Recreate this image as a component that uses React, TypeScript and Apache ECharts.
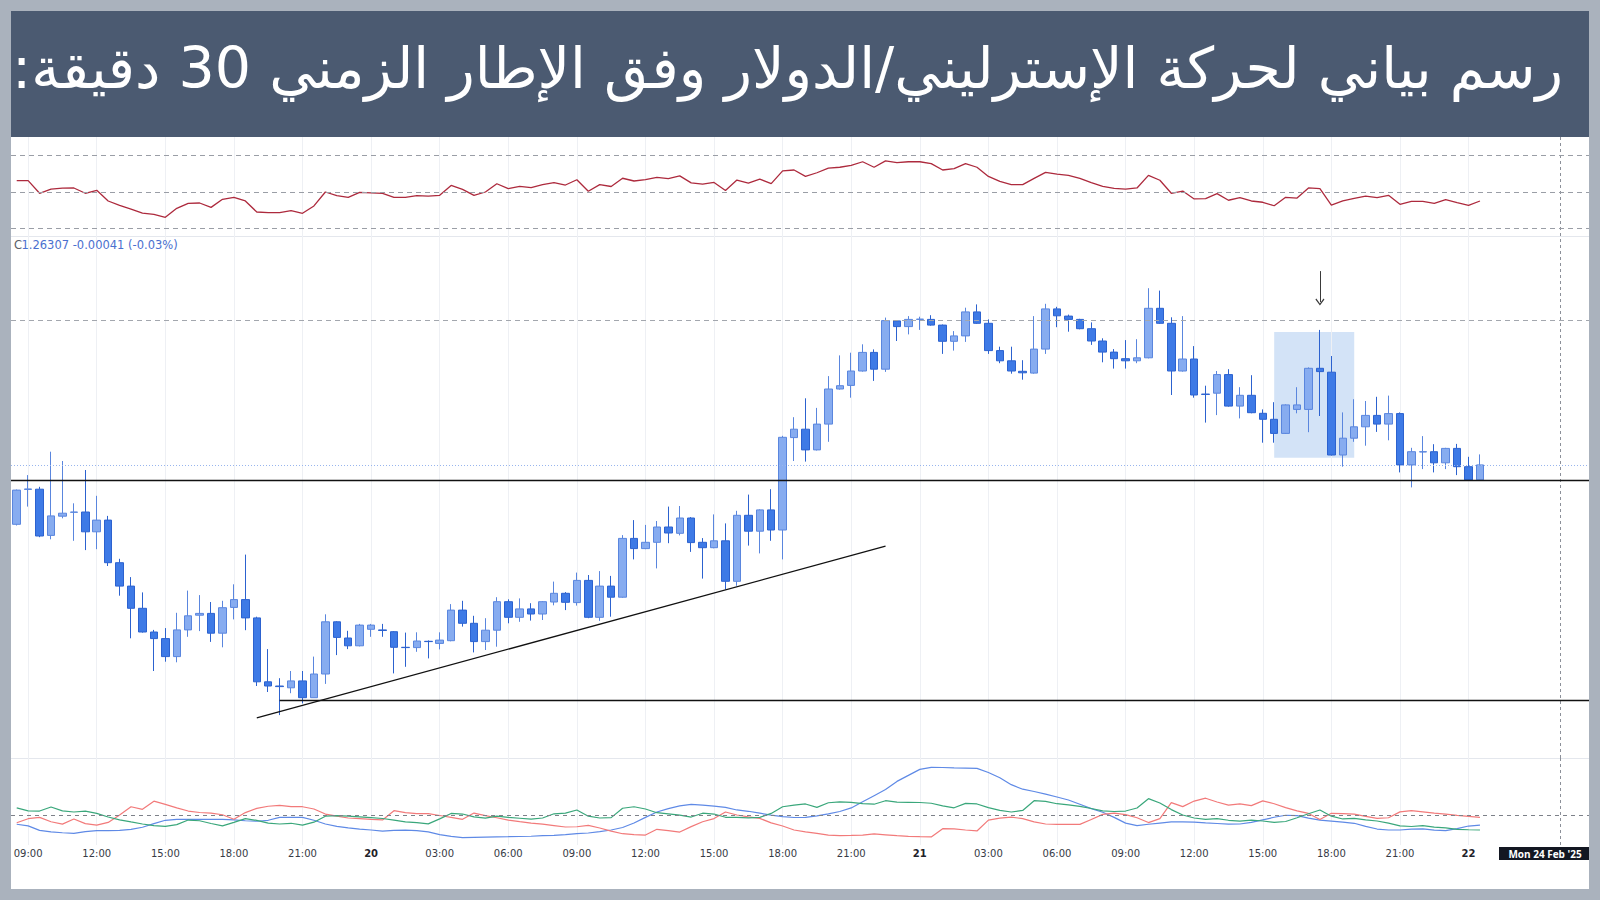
import React, { useEffect, useRef } from "react";
import * as echarts from "echarts";

const TITLE = "رسم بياني لحركة الإسترليني/الدولار وفق الإطار الزمني 30 دقيقة:";
const QUOTE_PREFIX = "C";
const QUOTE_TEXT = "1.26307 -0.00041 (-0.03%)";
const CROSSHAIR_LABEL = "Mon 24 Feb '25";

// x-axis tick labels (category index -> label)
const tickIndex = [1, 7, 13, 19, 25, 31, 37, 43, 49, 55, 61, 67, 73, 79, 85, 91, 97, 103, 109, 115, 121, 127];
const tickLabels = ["09:00", "12:00", "15:00", "18:00", "21:00", "20", "03:00", "06:00", "09:00", "12:00", "15:00", "18:00", "21:00", "21", "03:00", "06:00", "09:00", "12:00", "15:00", "18:00", "21:00", "22"];
const dayLabels = ["20", "21", "22"];

const SLOT_COUNT = 139; // 129 thirty-minute candles + empty slots on the right
const CROSSHAIR_INDEX = 135;
const START_MS = Date.UTC(2025, 1, 19, 8, 30);
const categories = Array.from({ length: SLOT_COUNT }, (_, i) =>
  new Date(START_MS + i * 1800000).toISOString().slice(5, 16).replace("T", " ")
);

// GBP/USD 30m candles: [open, close, low, high]
const candles = [
  [1.26109, 1.26223, 1.26105, 1.26225], [1.26225, 1.26227, 1.26168, 1.26273], [1.26226, 1.26070, 1.26066, 1.26234], [1.26072, 1.26137, 1.26059, 1.26351],
  [1.26136, 1.26146, 1.26129, 1.26320], [1.26149, 1.26150, 1.26054, 1.26179], [1.26150, 1.26084, 1.26023, 1.26290], [1.26084, 1.26123, 1.26026, 1.26204],
  [1.26123, 1.25981, 1.25970, 1.26137], [1.25981, 1.25903, 1.25871, 1.25994], [1.25903, 1.25829, 1.25729, 1.25933], [1.25829, 1.25750, 1.25748, 1.25882],
  [1.25750, 1.25728, 1.25620, 1.25757], [1.25728, 1.25668, 1.25651, 1.25763], [1.25668, 1.25757, 1.25649, 1.25814], [1.25757, 1.25804, 1.25734, 1.25888],
  [1.25806, 1.25812, 1.25753, 1.25873], [1.25812, 1.25746, 1.25717, 1.25850], [1.25746, 1.25831, 1.25699, 1.25854], [1.25832, 1.25858, 1.25792, 1.25909],
  [1.25858, 1.25797, 1.25756, 1.26008], [1.25797, 1.25584, 1.25570, 1.25801], [1.25584, 1.25570, 1.25550, 1.25693], [1.25570, 1.25568, 1.25473, 1.25596],
  [1.25564, 1.25587, 1.25546, 1.25620], [1.25587, 1.25531, 1.25512, 1.25620], [1.25531, 1.25610, 1.25531, 1.25668], [1.25610, 1.25784, 1.25577, 1.25809],
  [1.25784, 1.25732, 1.25673, 1.25786], [1.25730, 1.25704, 1.25693, 1.25754], [1.25704, 1.25773, 1.25702, 1.25777], [1.25759, 1.25773, 1.25734, 1.25777],
  [1.25757, 1.25755, 1.25734, 1.25777], [1.25751, 1.25699, 1.25612, 1.25753], [1.25699, 1.25698, 1.25634, 1.25748], [1.25698, 1.25720, 1.25684, 1.25749],
  [1.25719, 1.25718, 1.25662, 1.25722], [1.25712, 1.25723, 1.25692, 1.25749], [1.25721, 1.25823, 1.25719, 1.25843], [1.25823, 1.25779, 1.25768, 1.25854],
  [1.25779, 1.25718, 1.25682, 1.25804], [1.25718, 1.25756, 1.25690, 1.25796], [1.25756, 1.25851, 1.25701, 1.25866], [1.25851, 1.25799, 1.25779, 1.25859],
  [1.25799, 1.25827, 1.25784, 1.25862], [1.25827, 1.25810, 1.25788, 1.25846], [1.25810, 1.25851, 1.25790, 1.25853], [1.25850, 1.25879, 1.25839, 1.25918],
  [1.25879, 1.25849, 1.25823, 1.25883], [1.25848, 1.25922, 1.25838, 1.25948], [1.25922, 1.25799, 1.25796, 1.25940], [1.25799, 1.25903, 1.25787, 1.25953],
  [1.25903, 1.25866, 1.25801, 1.25937], [1.25866, 1.26062, 1.25864, 1.26073], [1.26062, 1.26028, 1.25992, 1.26123], [1.26028, 1.26049, 1.26026, 1.26107],
  [1.26049, 1.26100, 1.25962, 1.26120], [1.26100, 1.26080, 1.26046, 1.26168], [1.26079, 1.26130, 1.26072, 1.26170], [1.26130, 1.26048, 1.26017, 1.26133],
  [1.26049, 1.26031, 1.25928, 1.26063], [1.26031, 1.26054, 1.26029, 1.26142], [1.26054, 1.25919, 1.25892, 1.26112], [1.25919, 1.26139, 1.25904, 1.26154],
  [1.26139, 1.26086, 1.26038, 1.26208], [1.26086, 1.26157, 1.26012, 1.26159], [1.26157, 1.26090, 1.26054, 1.26226], [1.26090, 1.26399, 1.25992, 1.26404],
  [1.26398, 1.26426, 1.26320, 1.26466], [1.26426, 1.26357, 1.26318, 1.26529], [1.26357, 1.26443, 1.26355, 1.26497], [1.26443, 1.26560, 1.26384, 1.26603],
  [1.26560, 1.26571, 1.26558, 1.26672], [1.26572, 1.26620, 1.26531, 1.26681], [1.26620, 1.26682, 1.26618, 1.26709], [1.26682, 1.26626, 1.26587, 1.26692],
  [1.26626, 1.26788, 1.26617, 1.26798], [1.26787, 1.26768, 1.26720, 1.26789], [1.26768, 1.26792, 1.26742, 1.26803], [1.26792, 1.26793, 1.26757, 1.26801],
  [1.26792, 1.26773, 1.26771, 1.26806], [1.26773, 1.26719, 1.26677, 1.26775], [1.26719, 1.26737, 1.26688, 1.26753], [1.26737, 1.26817, 1.26717, 1.26831],
  [1.26817, 1.26779, 1.26777, 1.26842], [1.26779, 1.26688, 1.26677, 1.26792], [1.26688, 1.26654, 1.26646, 1.26701], [1.26654, 1.26620, 1.26611, 1.26701],
  [1.26619, 1.26614, 1.26591, 1.26656], [1.26613, 1.26693, 1.26611, 1.26803], [1.26693, 1.26827, 1.26677, 1.26844], [1.26827, 1.26804, 1.26766, 1.26834],
  [1.26803, 1.26792, 1.26751, 1.26808], [1.26792, 1.26761, 1.26759, 1.26794], [1.26761, 1.26720, 1.26707, 1.26782], [1.26720, 1.26683, 1.26649, 1.26729],
  [1.26683, 1.26661, 1.26628, 1.26693], [1.26661, 1.26654, 1.26628, 1.26723], [1.26654, 1.26664, 1.26646, 1.26726], [1.26664, 1.26829, 1.26662, 1.26896],
  [1.26829, 1.26779, 1.26777, 1.26888], [1.26779, 1.26620, 1.26540, 1.26799], [1.26620, 1.26660, 1.26618, 1.26803], [1.26660, 1.26540, 1.26531, 1.26703],
  [1.26543, 1.26542, 1.26448, 1.26571], [1.26546, 1.26608, 1.26473, 1.26620], [1.26608, 1.26503, 1.26501, 1.26626], [1.26503, 1.26539, 1.26462, 1.26566],
  [1.26539, 1.26481, 1.26479, 1.26606], [1.26479, 1.26459, 1.26381, 1.26492], [1.26459, 1.26412, 1.26381, 1.26516], [1.26412, 1.26507, 1.26410, 1.26509],
  [1.26492, 1.26507, 1.26479, 1.26566], [1.26492, 1.26629, 1.26416, 1.26632], [1.26629, 1.26618, 1.26470, 1.26757], [1.26616, 1.26340, 1.26338, 1.26670],
  [1.26340, 1.26396, 1.26301, 1.26482], [1.26396, 1.26434, 1.26384, 1.26526], [1.26434, 1.26472, 1.26371, 1.26520], [1.26472, 1.26443, 1.26417, 1.26534],
  [1.26443, 1.26478, 1.26389, 1.26538], [1.26478, 1.26307, 1.26282, 1.26482], [1.26307, 1.26351, 1.26232, 1.26364], [1.26350, 1.26351, 1.26293, 1.26403],
  [1.26351, 1.26314, 1.26282, 1.26376], [1.26314, 1.26362, 1.26293, 1.26364], [1.26362, 1.26301, 1.26273, 1.26377], [1.26301, 1.26257, 1.26255, 1.26334],
  [1.26257, 1.26307, 1.26255, 1.26342],
];

// RSI (top pane)
const rsi = [
  56.2, 56.2, 49.3, 51.6, 52.1, 52.2, 49.3, 50.9, 45.1, 42.7,
  40.7, 38.5, 37.8, 36.2, 41.1, 43.8, 44.0, 41.6, 46.0, 47.1,
  45.1, 39.1, 38.7, 38.7, 39.8, 38.4, 42.4, 50.0, 48.0, 47.1,
  49.8, 49.5, 49.3, 47.1, 47.1, 48.0, 47.8, 48.2, 53.6, 51.4,
  48.2, 50.0, 54.5, 51.8, 53.1, 52.4, 54.0, 55.1, 53.8, 56.7,
  50.4, 54.0, 53.0, 57.5, 56.0, 56.8, 58.0, 57.3, 58.8, 55.0,
  54.3, 55.2, 50.8, 56.5, 54.8, 57.0, 54.6, 61.5, 62.0, 58.5,
  60.5, 63.0, 63.5, 64.5, 66.5, 63.5, 67.0, 66.0, 66.5, 66.5,
  65.5, 62.0, 62.8, 65.5, 63.5, 58.5, 55.8, 54.0, 54.0, 57.4,
  60.7, 59.8, 59.1, 57.4, 55.1, 53.1, 52.0, 51.6, 52.2, 59.1,
  56.4, 49.3, 50.5, 46.2, 46.4, 49.1, 45.5, 46.9, 45.1, 44.4,
  42.5, 47.1, 46.7, 52.2, 51.8, 42.9, 45.1, 46.5, 47.8, 46.9,
  48.2, 43.3, 44.9, 44.9, 43.8, 45.8, 44.2, 42.7, 45.1,
];
const rsiBands = [70, 50, 30];

// DMI (bottom pane)
const adx = [
  17.3, 15.9, 12.2, 11.0, 10.2, 9.7, 11.2, 11.9, 11.9, 12.2,
  13.0, 14.8, 17.8, 20.6, 21.3, 21.4, 21.4, 21.4, 21.3, 21.0,
  20.2, 19.8, 20.6, 23.0, 23.1, 23.0, 20.6, 17.5, 15.5, 14.2,
  13.3, 12.5, 11.6, 12.2, 12.4, 12.0, 11.0, 8.7, 7.2, 6.1,
  6.4, 6.6, 6.8, 6.9, 7.1, 7.3, 7.8, 8.1, 8.6, 9.4,
  10.0, 11.1, 12.5, 14.6, 18.3, 23.0, 27.5, 30.3, 32.6, 33.9,
  33.3, 32.4, 31.4, 29.2, 28.1, 26.5, 24.9, 23.6, 22.9, 23.0,
  24.3, 26.0, 27.9, 30.9, 36.0, 41.1, 46.2, 53.0, 58.0, 63.0,
  64.7, 64.6, 64.3, 64.1, 63.9, 60.4, 56.0, 50.3, 46.5, 44.6,
  42.4, 40.0, 37.5, 34.0, 30.3, 27.3, 23.0, 18.2, 16.1, 17.3,
  18.3, 19.3, 19.3, 19.0, 18.4, 17.9, 17.4, 17.5, 18.8, 21.0,
  23.1, 24.8, 24.5, 22.4, 20.8, 19.9, 19.0, 18.1, 15.5, 13.3,
  12.5, 12.5, 13.3, 13.4, 12.4, 12.0, 13.6, 15.8, 16.6,
];
const diMinus = [
  18.5, 21.9, 23.0, 19.4, 17.4, 21.7, 17.8, 16.6, 18.8, 25.0,
  31.9, 29.7, 36.5, 33.8, 31.0, 28.3, 27.1, 26.6, 25.2, 21.5,
  27.0, 30.5, 32.3, 33.0, 31.9, 31.9, 30.0, 25.8, 24.0, 22.5,
  21.9, 21.3, 20.9, 28.6, 27.0, 26.1, 26.2, 24.6, 23.0, 21.4,
  26.6, 24.5, 22.7, 20.8, 19.5, 18.3, 17.4, 16.2, 15.0, 15.2,
  16.4, 14.2, 11.6, 9.4, 8.7, 8.3, 13.1, 12.0, 10.8, 15.3,
  19.4, 22.0, 27.5, 25.0, 23.4, 22.2, 18.4, 15.8, 12.5, 11.0,
  9.7, 8.3, 7.8, 8.0, 8.3, 9.2, 8.5, 7.8, 7.2, 6.9,
  6.7, 13.6, 13.4, 12.5, 11.7, 20.7, 22.4, 23.2, 22.0, 19.3,
  17.5, 17.2, 17.2, 17.2, 21.2, 25.5, 26.6, 25.3, 22.7, 18.7,
  22.0, 35.3, 32.0, 36.6, 39.0, 35.8, 33.2, 34.2, 32.8, 36.8,
  34.4, 31.2, 28.4, 26.3, 21.3, 26.4, 26.2, 25.8, 23.8, 22.2,
  22.7, 27.6, 28.6, 27.6, 26.5, 25.7, 24.7, 23.8, 23.1,
];
const diPlus = [
  30.9, 28.5, 28.3, 31.7, 28.4, 27.5, 28.2, 26.3, 23.3, 21.0,
  19.2, 17.5, 16.2, 15.5, 17.0, 20.8, 20.2, 17.9, 15.9, 18.8,
  22.0, 20.5, 18.2, 17.5, 18.1, 16.6, 19.0, 24.0, 24.5, 24.0,
  23.4, 22.8, 22.1, 20.8, 19.3, 18.7, 17.6, 21.8, 26.3, 25.8,
  23.4, 22.4, 24.0, 23.1, 22.3, 21.5, 22.5, 26.0, 26.5, 29.2,
  24.0, 22.5, 22.8, 30.6, 31.9, 30.0, 26.9, 26.0, 24.9, 23.3,
  26.5, 25.8, 23.1, 23.1, 22.6, 23.0, 26.3, 31.9, 33.3, 34.2,
  31.4, 35.2, 36.0, 35.5, 34.4, 34.0, 36.9, 35.8, 35.6, 35.4,
  34.8, 32.6, 31.0, 34.7, 34.2, 31.1, 28.9, 27.5, 28.8, 36.9,
  36.4, 34.4, 33.5, 32.2, 30.4, 28.5, 27.9, 28.3, 30.8, 38.6,
  35.0, 29.5, 25.0, 22.5, 21.4, 22.0, 20.6, 19.9, 20.8, 20.0,
  18.9, 19.6, 22.7, 26.0, 29.2, 24.0, 21.7, 22.2, 21.0, 20.0,
  18.2, 16.0, 15.4, 16.1, 14.9, 14.2, 13.1, 12.7, 12.5,
];
const dmiThreshold = 25;

// Drawn levels / annotations (price coordinates)
const resistanceLevel = 1.26788;
const lastPrice = 1.26307;
const supportLevel = 1.26256;
const baseLevel = 1.25521;
const baseStartIndex = 23;
const trendStart = [21, 1.25464];
const trendEnd = [76, 1.26036];
const highlightFrom = [110, 1.2675];
const highlightTo = [117, 1.26331];
const arrowTop = [114, 1.26953];
const arrowTip = [114, 1.2685];

const FONT = "'DejaVu Sans', sans-serif";
const FRAME = "#aab2bd";
const BANNER = "#4b5a71";
const GRID_LEFT = 11;
const GRID_WIDTH = 1595;
const ARROW_HEAD = "path://M5,0L10,7L9,8L5,2.4L1,8L0,7Z";

function buildOption() {
  const labelMap = new Map<number, string>();
  tickIndex.forEach((idx, k) => labelMap.set(idx, tickLabels[k]));

  const xAxis = [0, 1, 2].map((k) => ({
    type: "category",
    gridIndex: k,
    data: categories,
    boundaryGap: true,
    axisLine: { show: false },
    axisTick: { show: false },
    splitLine: { show: false },
    axisLabel:
      k === 2
        ? {
            show: true,
            interval: (i: number) => labelMap.has(i),
            formatter: (_v: string, i: number) => {
              const l = labelMap.get(i) || "";
              return dayLabels.includes(l) ? `{d|${l}}` : l;
            },
            margin: 3,
            fontSize: 10,
            fontFamily: FONT,
            color: "#363a45",
            rich: { d: { fontSize: 10, fontFamily: FONT, fontWeight: "bold", color: "#1f222a" } },
          }
        : { show: false },
  }));

  const yAxis = [
    { type: "value", gridIndex: 0, min: 26, max: 80, show: false },
    { type: "value", gridIndex: 1, min: 1.2533, max: 1.2707, show: false },
    { type: "value", gridIndex: 2, min: 0, max: 72.5, show: false },
  ];

  const guide = (k: number, extra: any = {}) => ({
    type: "line",
    xAxisIndex: k,
    yAxisIndex: k,
    data: [],
    silent: true,
    z: 1,
    markLine: {
      silent: true,
      z: 1,
      precision: 6,
      symbol: ["none", "none"],
      label: { show: false },
      data: [
        ...tickIndex.map((i) => ({ xAxis: i, lineStyle: { color: "#eef0f4", width: 1, type: "solid" } })),
        { xAxis: CROSSHAIR_INDEX, lineStyle: { color: "#8c9099", width: 1, type: [3, 3] } },
      ],
    },
    ...extra,
  });

  const black = { color: "#111111", width: 1.3, type: "solid" };
  const arrowStyle = { color: "#3a3a3a", width: 1, type: "solid" };

  const series: any[] = [
    guide(0),
    guide(1, {
      markArea: {
        silent: true,
        precision: 6,
        itemStyle: { color: "rgba(168,200,240,0.5)" },
        data: [[{ coord: highlightFrom }, { coord: highlightTo }]],
      },
    }),
    guide(2),
    {
      type: "line",
      name: "RSI",
      xAxisIndex: 0,
      yAxisIndex: 0,
      data: rsi,
      showSymbol: false,
      silent: true,
      lineStyle: { color: "#ad2a3d", width: 1.3 },
      markLine: {
        silent: true,
        precision: 6,
        symbol: ["none", "none"],
        label: { show: false },
        data: rsiBands.map((v) => ({ yAxis: v, lineStyle: { color: "#9a9ea6", width: 1, type: [5, 4] } })),
      },
    },
    {
      type: "candlestick",
      name: "GBPUSD",
      xAxisIndex: 1,
      yAxisIndex: 1,
      data: candles,
      barWidth: 8,
      silent: true,
      itemStyle: {
        color: "#87acf0",
        color0: "#3e7ae6",
        borderColor: "#5a86de",
        borderColor0: "#2c62cf",
        borderWidth: 1,
      },
      markLine: {
        silent: true,
        precision: 6,
        symbol: ["none", "none"],
        label: { show: false },
        data: [
          { yAxis: resistanceLevel, lineStyle: { color: "#a3a7ae", width: 1, type: [5, 4] } },
          { yAxis: lastPrice, lineStyle: { color: "#98b5ee", width: 1, type: [1, 2] } },
          { yAxis: supportLevel, lineStyle: black },
          [
            { coord: [baseStartIndex, baseLevel], lineStyle: black },
            { coord: [SLOT_COUNT - 1, baseLevel], lineStyle: black },
          ],
          [
            { coord: trendStart, lineStyle: black },
            { coord: trendEnd, lineStyle: black },
          ],
          [
            { coord: arrowTop, symbol: "none", lineStyle: arrowStyle },
            { coord: arrowTip, symbol: ARROW_HEAD, symbolSize: [9, 7], lineStyle: arrowStyle },
          ],
        ],
      },
    },
    {
      type: "line",
      name: "ADX",
      xAxisIndex: 2,
      yAxisIndex: 2,
      data: adx,
      showSymbol: false,
      silent: true,
      lineStyle: { color: "#5f8ae6", width: 1.2 },
      markLine: {
        silent: true,
        precision: 6,
        symbol: ["none", "none"],
        label: { show: false },
        data: [{ yAxis: dmiThreshold, lineStyle: { color: "#7d8189", width: 1, type: [4, 4] } }],
      },
    },
    {
      type: "line",
      name: "-DI",
      xAxisIndex: 2,
      yAxisIndex: 2,
      data: diMinus,
      showSymbol: false,
      silent: true,
      lineStyle: { color: "#f27a7a", width: 1.2 },
    },
    {
      type: "line",
      name: "+DI",
      xAxisIndex: 2,
      yAxisIndex: 2,
      data: diPlus,
      showSymbol: false,
      silent: true,
      lineStyle: { color: "#3aa77b", width: 1.2 },
    },
  ];

  const graphic: any[] = [
    { type: "rect", z: -10, silent: true, shape: { x: 11, y: 137, width: 1578, height: 752 }, style: { fill: "#ffffff" } },
    { type: "rect", z: -10, silent: true, shape: { x: 11, y: 11, width: 1578, height: 126 }, style: { fill: BANNER } },
    {
      type: "text",
      z: 10,
      x: 1563,
      y: 68,
      style: {
        text: TITLE + "\u200f",
        fill: "#ffffff",
        fontSize: 57,
        fontFamily: FONT,
        align: "right",
        verticalAlign: "middle",
      },
    },
    { type: "line", z: 0, silent: true, shape: { x1: 11, y1: 236.5, x2: 1589, y2: 236.5 }, style: { stroke: "#e4e7ed", lineWidth: 1 } },
    { type: "line", z: 0, silent: true, shape: { x1: 11, y1: 758.5, x2: 1589, y2: 758.5 }, style: { stroke: "#e4e7ed", lineWidth: 1 } },
    {
      type: "text",
      z: 10,
      x: 14,
      y: 245,
      style: { text: QUOTE_PREFIX, fill: "#5d6068", fontSize: 11.5, fontFamily: FONT, verticalAlign: "middle" },
    },
    {
      type: "text",
      z: 10,
      x: 21.5,
      y: 245,
      style: { text: QUOTE_TEXT, fill: "#4a70cf", fontSize: 11.5, fontFamily: FONT, verticalAlign: "middle" },
    },
    { type: "rect", z: 20, silent: true, shape: { x: 1499, y: 847, width: 90, height: 13 }, style: { fill: "#131722" } },
    {
      type: "text",
      z: 21,
      x: 1545,
      y: 853.5,
      style: {
        text: CROSSHAIR_LABEL,
        fill: "#ffffff",
        fontSize: 10,
        fontWeight: "bold",
        fontFamily: "'Open Sans', sans-serif",
        align: "center",
        verticalAlign: "middle",
      },
    },
    { type: "rect", z: 100, silent: true, shape: { x: 1589, y: 0, width: 11, height: 900 }, style: { fill: FRAME } },
  ];

  return {
    animation: false,
    backgroundColor: FRAME,
    grid: [
      { left: GRID_LEFT, width: GRID_WIDTH, top: 137, height: 99 },
      { left: GRID_LEFT, width: GRID_WIDTH, top: 236, height: 522 },
      { left: GRID_LEFT, width: GRID_WIDTH, top: 758, height: 87 },
    ],
    xAxis,
    yAxis,
    series,
    graphic,
  };
}

export default function App() {
  const ref = useRef<HTMLDivElement>(null);
  useEffect(() => {
    if (!ref.current) return;
    const chart = echarts.init(ref.current, undefined, { renderer: "svg" });
    chart.setOption(buildOption() as any);
    return () => chart.dispose();
  }, []);
  return <div ref={ref} style={{ position: "fixed", left: 0, top: 0, width: 1600, height: 900 }} />;
}
